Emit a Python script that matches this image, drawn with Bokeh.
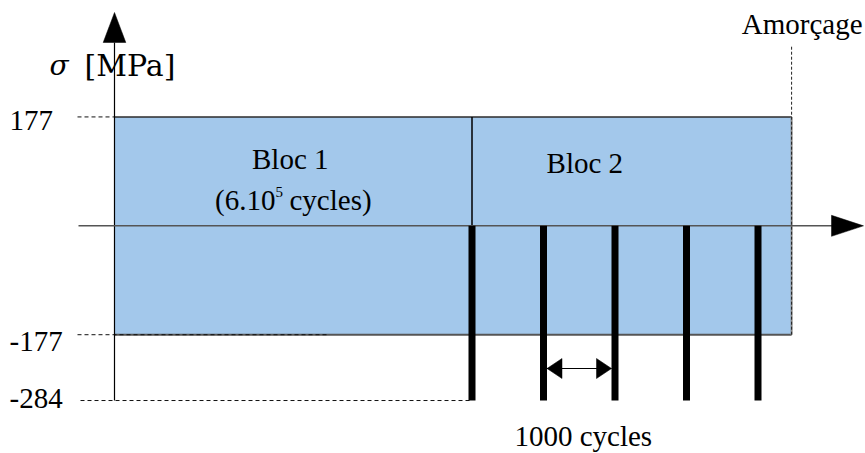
from bokeh.plotting import figure
from bokeh.models import Range1d, ColumnDataSource
from bokeh.core.properties import value
from bokeh.embed import file_html
from bokeh.resources import INLINE

# ---------------- data ----------------
stress_ticks = [177, -177, -284]            # MPa
stress_tick_labels = ["177", "-177", "-284"]
sigma_amp = 177                              # constant-amplitude loading +/-177 MPa
sigma_overload = -284                        # compressive overloads in block 2
bloc_labels = ["Bloc 1", "Bloc 2"]
bloc_start = [0.0, 5.0]                      # schematic time axis (units of 1000 cycles, block 1 compressed)
bloc_end = [5.0, 9.47]
overload_t = [5.0, 6.0, 7.0, 8.0, 9.0]       # one overload every 1000 cycles
amorcage_t = 9.47                            # crack initiation

# ---------------- layout helpers ----------------
W, H, M = 865, 453, 0
PX_X, X0 = 71.5, 114.0        # px per time unit, picture px of t=0
PX_Y, Y0 = 0.61516, 225.32    # px per MPa, picture px of sigma=0
BASE_FIX = 10                 # alphabetic-baseline correction (px)
FS = "29px"


def tx(px):
    return (px - X0) / PX_X


def sy(py):
    return (Y0 - py) / PX_Y


def sb(py):
    # y for a text whose baseline should sit at picture row py
    return sy(py - BASE_FIX)


BLUE = "#a3c8eb"
SERIF = value("Liberation Serif")

p = figure(width=W, height=H, x_range=Range1d(tx(M), tx(M + W)),
           y_range=Range1d(sy(M + H), sy(M)), x_axis_type=None, y_axis_type=None,
           toolbar_location=None, output_backend="svg", min_border=0,
           outline_line_color=None)
p.grid.visible = False

# blue loading envelope
p.quad(left=bloc_start[0], right=bloc_end[-1], bottom=-sigma_amp, top=sigma_amp,
       fill_color=BLUE, line_color=None)
p.segment(x0=[bloc_start[0]], y0=[sigma_amp], x1=[bloc_end[-1]], y1=[sigma_amp],
          line_color="#2b2b2b", line_width=1.5)
p.segment(x0=[bloc_start[0]], y0=[-sigma_amp], x1=[bloc_end[-1]], y1=[-sigma_amp],
          line_color="#555555", line_width=2)
p.segment(x0=[amorcage_t], y0=[-sigma_amp], x1=[amorcage_t], y1=[sigma_amp],
          line_color="#8a8a8a", line_width=2)
p.segment(x0=[amorcage_t], y0=[-sigma_amp], x1=[amorcage_t], y1=[sy(46)],
          line_color="#222222", line_width=1, line_dash="3 2")

# dashed guides to tick labels
p.segment(x0=[tx(77), tx(77), tx(80)], y0=[stress_ticks[0], stress_ticks[1], stress_ticks[2]],
          x1=[bloc_start[0], tx(329), overload_t[0]], y1=stress_ticks,
          line_color="#111111", line_width=1, line_dash="4 3")

# block separator
p.segment(x0=[bloc_end[0]], y0=[0], x1=[bloc_end[0]], y1=[sigma_amp],
          line_color="black", line_width=1.5)

# axes
p.segment(x0=[0], y0=[sigma_overload], x1=[0], y1=[sy(42)], line_color="black", line_width=1.2)
p.segment(x0=[tx(78)], y0=[0], x1=[tx(832)], y1=[0], line_color="#555555", line_width=1.6)
hw = 11.3 / PX_X
hh = 10.5 / PX_Y
p.patches(xs=[[-hw, hw, 0], [tx(831), tx(831), tx(863)]],
          ys=[[sy(42), sy(42), sy(12)], [-hh, hh, 0]],
          fill_color="black", line_color="black", line_width=0.5)

# overload spikes
p.segment(x0=overload_t, y0=[0] * len(overload_t), x1=overload_t,
          y1=[sigma_overload] * len(overload_t), line_color="black", line_width=7,
          line_cap="butt")

# 1000-cycle dimension arrow
ya = sy(368)
a0 = overload_t[1] + 3.5 / PX_X
a1 = overload_t[2] - 3.5 / PX_X
hl = 15 / PX_X
ah = 10 / PX_Y
p.segment(x0=[a0], y0=[ya], x1=[a1], y1=[ya], line_color="black", line_width=1)
p.patches(xs=[[a0, a0 + hl, a0 + hl], [a1, a1 - hl, a1 - hl]],
          ys=[[ya, ya + ah, ya - ah], [ya, ya + ah, ya - ah]],
          fill_color="black", line_color="black", line_width=0.5)

# ---------------- texts ----------------
tick_src = ColumnDataSource(dict(x=[tx(9)] * 3, y=stress_ticks, t=stress_tick_labels,
                                 dy=[4, 7, -2]))
p.text(x="x", y="y", text="t", source=tick_src, text_font=SERIF,
       text_font_size=FS, text_baseline="middle", text_align="left",
       y_offset="dy", text_color="black")

p.text(x=[tx(49)], y=[sb(75)], text=["σ"], text_font=value("DejaVu Serif"),
       text_font_style="italic", text_font_size="28px", text_baseline="alphabetic",
       text_color="black")
p.text(x=[tx(84)], y=[sb(75)], text=["[MPa]"], text_font=value("DejaVu Serif"),
       text_font_size="30px", text_baseline="alphabetic", text_color="black")

p.text(x=[(bloc_start[0] + bloc_end[0]) / 2], y=[sb(168)], text=[bloc_labels[0]],
       text_font=SERIF, text_font_size=FS, text_align="center",
       text_baseline="alphabetic", x_offset=-3, text_color="black")
p.text(x=[(bloc_start[1] + bloc_end[1]) / 2], y=[sb(172)], text=[bloc_labels[1]],
       text_font=SERIF, text_font_size=FS, text_align="center",
       text_baseline="alphabetic", x_offset=-47, text_color="black")

p.text(x=[tx(275)], y=[sb(209)], text=["(6.10"], text_font=SERIF, text_font_size=FS,
       text_align="right", text_baseline="alphabetic", text_color="black")
p.text(x=[tx(275)], y=[sb(201)], text=["5"], text_font=SERIF, text_font_size="15px",
       text_align="left", text_baseline="alphabetic", text_color="black")
p.text(x=[tx(289)], y=[sb(209)], text=["cycles)"], text_font=SERIF, text_font_size=FS,
       text_align="left", text_baseline="alphabetic", text_color="black")

p.text(x=[tx(862)], y=[sb(33)], text=["Amorçage"], text_font=SERIF, text_font_size=FS,
       text_align="right", text_baseline="alphabetic", text_color="black")

p.text(x=[(overload_t[1] + overload_t[2]) / 2], y=[sb(445)], text=["1000 cycles"],
       text_font=SERIF, text_font_size=FS, text_align="center",
       text_baseline="alphabetic", x_offset=4, text_color="black")

open("out.html", "w").write(file_html(p, INLINE))
